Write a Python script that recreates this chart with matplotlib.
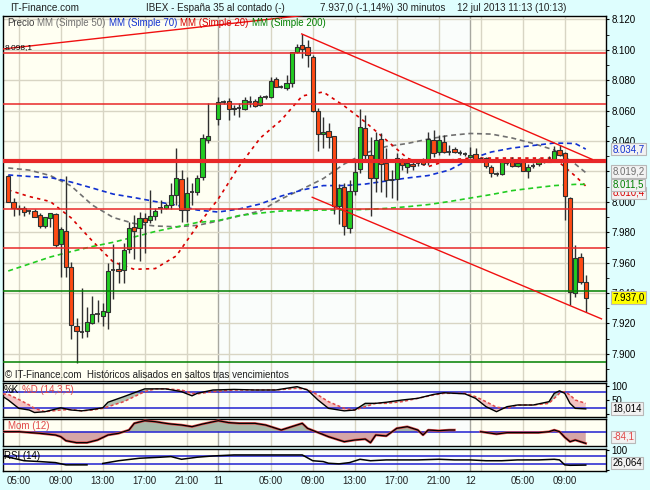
import numpy as np
import matplotlib.pyplot as plt
import matplotlib.transforms as mtransforms

plt.rcParams['font.family'] = ['Liberation Sans', 'DejaVu Sans']

nan = float('nan')

# IBEX 35 contado, velas de 30 minutos (10 jul 04:00 -> 12 jul 11:00)
opens = [8017.0, 8000.2, 7995.7, 7995.7, 7993.8, 7994.3, 7991.3, 7984.1, 7989.4, 7992.0,
         7972.2, 7981.0, 7956.9, 7918.1, 7914.5, 7915.3, 7920.1, 7926.0, 7925.2, 7927.7,
         7955.1, 7955.5, 7955.1, 7968.8, 7983.2, 7982.6, 7989.2, 7987.8, 7990.7, 7995.7,
         7995.7, 7997.7, 8004.3, 8014.8, 7994.6, 8006.3, 8006.7, 8016.5, 8040.7, nan,
         8054.3, 8065.5, 8066.3, 8061.7, 8061.5, 8060.9, 8065.9, 8066.3, 8063.7, 8069.2,
         8068.8, 8080.6, 8075.8, 8074.7, 8078.0, 8098.8, 8103.2, 8101.7, 8095.1, 8059.8,
         8044.6, 8046.8, 8043.1, 7997.5, 8009.6, 7982.6, 8007.3, 8021.4, 8048.4, 8030.8,
         8015.7, 8041.3, 8025.3, 8014.7, 8014.8, 8026.9, 8022.9, 8024.9, 8025.7, 8026.4,
         8026.4, 8041.0, 8032.6, 8039.6, 8033.1, 8034.6, 8032.3, 8031.5, 8029.3, 8031.3,
         8028.5, 8028.6, 8022.7, 8018.3, 8018.3, 8025.7, 8026.9, 8023.9, 8026.0, 8020.5,
         8023.6, 8024.6, 8026.5, 8026.4, 8028.2, 8034.1, 8031.9, 8002.7, 7940.3, 7963.5,
         7947.5]
highs = [8017.7, 8002.3, 7997.6, 7997.3, 7994.6, 7995.0, 7992.4, 7990.3, 7992.9, 7992.4,
         7983.6, 8017.0, 7960.6, 7923.6, 7943.3, 7931.0, 7938.0, 7935.1, 7933.4, 7959.7,
         7972.3, 7960.4, 7972.6, 7986.9, 7991.3, 7993.5, 7992.4, 8007.8, 7995.7, 8001.2,
         7999.0, 8012.2, 8035.2, 8020.9, 8016.5, 8012.2, 8017.7, 8044.6, 8064.8, nan,
         8069.0, 8067.0, 8068.1, 8063.7, 8064.8, 8069.2, 8069.6, 8067.5, 8070.3, 8070.0,
         8081.9, 8081.9, 8076.9, 8083.5, 8098.8, 8103.8, 8110.4, 8106.5, 8096.6, 8061.5,
         8056.0, 8051.7, 8043.3, 8011.7, 8012.2, 8014.4, 8027.5, 8060.9, 8057.1, 8042.7,
         8046.1, 8045.6, 8035.7, 8020.9, 8031.9, 8028.6, 8026.4, 8027.5, 8027.5, 8028.6,
         8046.1, 8047.3, 8044.0, 8044.0, 8037.4, 8036.3, 8034.1, 8032.8, 8036.3, 8035.4,
         8029.5, 8029.5, 8024.2, 8019.6, 8028.2, 8027.5, 8029.5, 8026.2, 8027.5, 8024.9,
         8025.5, 8028.8, 8027.5, 8030.2, 8036.7, 8037.4, 8032.8, 8003.4, 7971.6, 7966.5,
         7951.9]
lows = [7999.6, 7990.7, 7991.3, 7990.7, 7992.0, 7990.0, 7982.6, 7982.6, 7983.2, 7970.5,
        7950.7, 7950.7, 7909.5, 7893.7, 7910.5, 7911.1, 7919.6, 7920.9, 7918.3, 7916.1,
        7936.1, 7946.6, 7946.4, 7966.1, 7962.2, 7961.3, 7966.1, 7985.9, 7988.0, 7992.6,
        7995.1, 7995.1, 7997.9, 7986.9, 7986.9, 7997.9, 8004.5, 8014.4, 8038.9, nan,
        8050.6, 8064.4, 8053.8, 8057.1, 8055.6, 8060.4, 8062.2, 8062.2, 8063.1, 8067.9,
        8068.1, 8075.4, 8074.7, 8073.6, 8075.8, 8097.7, 8094.4, 8088.9, 8059.3, 8033.4,
        8035.2, 8035.2, 7992.0, 7985.4, 7978.0, 7979.8, 8004.5, 8019.3, 8027.5, 7991.0,
        8006.8, 8006.5, 8003.2, 8002.5, 8001.2, 8020.9, 8018.8, 8020.9, 8023.6, 8024.2,
        8024.2, 8029.7, 8030.8, 8031.9, 8030.8, 8031.9, 8030.8, 8030.2, 8028.8, 8027.5,
        8027.5, 8022.3, 8016.3, 8017.0, 8017.7, 8024.2, 8022.9, 8022.9, 8020.0, 8015.7,
        8022.3, 8023.6, 8025.5, 8025.9, 8027.5, 8030.2, 7988.0, 7932.1, 7937.6, 7945.9,
        7927.7]
closes = [7999.7, 7995.7, 7995.3, 7993.5, 7993.6, 7990.3, 7984.1, 7990.0, 7992.7, 7971.4,
          7981.9, 7956.9, 7918.9, 7914.8, 7914.5, 7920.7, 7926.0, 7926.0, 7928.2, 7954.5,
          7955.1, 7954.8, 7968.0, 7982.6, 7981.0, 7989.6, 7987.0, 7990.9, 7994.0, 7995.7,
          7997.9, 8004.5, 8015.5, 7994.6, 8005.6, 8006.3, 8015.5, 8041.8, 8043.3, nan,
          8065.4, 8065.5, 8060.9, 8061.3, 8061.5, 8067.0, 8065.9, 8063.1, 8068.8, 8069.2,
          8079.7, 8075.8, 8075.8, 8078.4, 8098.4, 8101.7, 8100.4, 8096.6, 8059.8, 8044.4,
          8046.1, 8042.9, 7997.5, 8008.9, 7984.3, 8007.3, 8019.8, 8049.0, 8031.1, 8015.5,
          8040.4, 8024.6, 8014.4, 8014.7, 8028.6, 8024.2, 8025.3, 8023.6, 8025.7, 8024.9,
          8041.3, 8032.4, 8040.5, 8032.6, 8033.1, 8033.0, 8032.3, 8031.5, 8030.8, 8028.0,
          8028.5, 8023.4, 8018.8, 8018.3, 8026.7, 8025.7, 8023.9, 8025.3, 8020.6, 8023.1,
          8023.6, 8026.4, 8026.5, 8028.0, 8033.4, 8031.1, 8003.8, 7940.5, 7962.8, 7947.1,
          7937.0]

# medias moviles (cada 4 velas)
ma_idx = [0, 4, 8, 12, 16, 20, 24, 28, 32, 36, 40, 44, 48, 52, 56, 60, 64, 68, 72, 76,
          80, 84, 88, 92, 96, 100, 104, 108, 110]
ma20 = [8007.8, 8003.5, 8000.2, 7989.4, 7974.3, 7960.4, 7955.6, 7956.1, 7964.4, 7984.1,
        8001.9, 8023.6, 8042.0, 8053.8, 8069.7, 8072.3, 8063.1, 8052.5, 8040.7, 8028.8,
        8023.2, 8027.5, 8028.8, 8028.8, 8028.8, 8028.8, 8028.8, 8017.0, 8010.4]
ma50 = [8022.3, 8020.9, 8017.3, 8010.4, 7997.9, 7989.7, 7985.7, 7984.1, 7983.6, 7984.5,
        7987.4, 7990.7, 7994.0, 8001.9, 8008.4, 8015.3, 8024.9, 8032.1, 8036.4, 8038.4,
        8041.3, 8043.7, 8045.0, 8044.6, 8042.0, 8038.4, 8034.1, 8024.9, 8019.2]
ma70 = [8017.7, 8016.7, 8016.0, 8013.0, 8009.1, 8005.1, 8002.8, 8000.2, 7997.9, 7994.6,
        7993.3, 7995.3, 7998.6, 8003.8, 8007.8, 8010.7, 8010.7, 8011.7, 8013.7, 8015.7,
        8017.3, 8020.9, 8028.2, 8032.8, 8035.4, 8037.1, 8038.7, 8038.4, 8034.7]
ma200 = [7954.5, 7959.1, 7963.7, 7967.3, 7970.6, 7973.4, 7976.9, 7980.5, 7983.4, 7986.4,
         7987.7, 7991.0, 7992.6, 7994.0, 7994.3, 7994.6, 7994.6, 7995.0, 7995.7, 7996.8,
         7998.2, 8000.2, 8002.5, 8004.8, 8007.4, 8009.1, 8010.7, 8011.5, 8011.5]

# lineas dibujadas: soportes / resistencias y canal
red_levels = [8098.1, 8064.2, 7995.1, 7969.5]
red_thick_level = 8027.1
green_levels = [7941.1, 7894.5]
trend_lines = [((-1.0, 8100.6), (56.0, 8122.6)),
               ((55.9, 8110.5), (111.2, 8028.0)),
               ((57.9, 8003.0), (113.0, 7923.0))]

# estocastico (14,3,5)
stoch_idx = [-1, 0, 2, 4, 5, 7, 10, 12, 14, 16, 18, 19, 22, 24, 26, 28, 30, 33, 35, 36,
             39, 43, 47, 51, 55, 57, 59, 61, 64, 66, 68, 70, 72, 75, 78, 81, 83, 87, 89, 91,
             93, 95, 97, 100, 103, 104, 105, 106, 107, 108, 110]
stoch_k = [62, 50, 20, 14, 5, 8, 22, 14, 11, 16, 22, 42, 62, 76, 90, 90, 90, 80, 65, 74,
           86, 88, 86, 86, 98, 86, 50, 20, 11, 14, 38, 38, 42, 50, 56, 70, 76, 72, 56, 26,
           8, 26, 32, 32, 44, 74, 83, 74, 38, 20, 18.014]
stoch_d = [72, 70, 52, 32, 20, 8, 14, 16, 11, 14, 20, 26, 44, 62, 80, 90, 90, 86, 74, 72,
           80, 86, 86, 86, 92, 88, 68, 44, 20, 14, 26, 38, 38, 44, 56, 68, 74, 74, 62, 44,
           24, 20, 32, 32, 38, 56, 74, 80, 68, 50, 38]

# momento (12)
mom_idx = [-1, 2, 6, 9, 10, 11, 13, 15, 17, 19, 21, 23, 24, 26, 28, 30, 31, 33, 35, 37,
           40, 42, 44, 47, 49, 52, 54, 56, 57, 59, 61, 64, 66, 68, 69, 70, 72, 74, 76, 78,
           79, 80, 82, 84, 85, 87, 90, 93, 95, 97, 101, 103, 104, 105, 106, 107, 108, 110]
mom_val = [0, 0, -12, -24, -36, -65, -79, -79, -60, -24, -12, 12, 60, 79, 72, 60, 55, 48, 36, 55,
           79, 65, 60, 60, 48, 12, 36, 60, 24, -6, -36, -72, -60, -53, -79, -24, -31, 24, 36, 12,
           -24, 12, 7, 12, 12, nan, 0, -17, -7, -7, -7, 0, 12, 0, -40, -72, -60, -84.1]

# RSI (14)
rsi_idx = [-1, 1, 3, 6, 9, 11, 15, 16, 18, 21, 25, 29, 31, 33, 36, 39, 43, 47, 51, 56,
           58, 60, 61, 63, 65, 67, 69, 72, 75, 78, 82, 85, 88, 91, 94, 97, 101, 104, 105, 106,
           107, 110]
rsi_val = [70, 59, 47, 43, 38, 27, 27, nan, 34, 47, 59, 64, 67, 54, 64, 70, 75, 75, 75, 75,
           47, 43, 35, 32, 38, 54, 47, 51, 51, 51, 54, 51, 51, 47, 47, 51, 51, 54, 51, 27,
           25, 26.064]

# eje de tiempo (indice de vela)
tick_idx = [2, 10, 18, 26, 34, 40, 50, 58, 66, 74, 82, 88, 98, 106]
tick_labels = ['05:00', '09:00', '13:00', '17:00', '21:00', '11',
               '05:00', '09:00', '13:00', '17:00', '21:00', '12', '05:00', '09:00']
grid_idx = [2, 10, 18, 26, 34, 42, 50, 58, 66, 74, 82, 90, 98, 106]
day_idx = [40, 88]

BG = '#DEFEFE'
CREAM = '#FFFFF2'
DAY11 = '#FAFDFB'
GRID = '#D8D5C4'
DAYLINE = '#A8A8A0'
GREEN = '#22CC22'
RED = '#FF4A14'
EDGE = '#303030'
W, H = 650, 490
X_LEFT, X_RIGHT = -1.0, 113.8


def es_number(v, nd):
    s = f'{v:,.{nd}f}'
    return s.replace(',', 'X').replace('.', ',').replace('X', '.')


def add_panel(fig, top, bottom):
    return fig.add_axes([3 / W, 1 - bottom / H, 602.7 / W, (bottom - top) / H])


def style_panel(a, ylim):
    a.set_xlim(X_LEFT, X_RIGHT)
    a.set_ylim(*ylim)
    a.set_facecolor(CREAM)
    a.axvspan(40, 88, color=DAY11, zorder=0, lw=0)
    for g in grid_idx:
        a.axvline(g, color=GRID, lw=1, zorder=1)
    for d in day_idx:
        a.axvline(d, color=DAYLINE, lw=1, zorder=1)
    for s in a.spines.values():
        s.set_color('black')
        s.set_linewidth(1)
    a.yaxis.tick_right()
    a.tick_params(axis='y', labelsize=7, length=2, pad=2)
    a.set_xticks([])


def value_box(a, y, text, color, face='#F2F2F2', coords='data'):
    if coords == 'data':
        tr = mtransforms.blended_transform_factory(a.transAxes, a.transData)
    else:
        tr = a.transAxes
    a.text(1.011, y, text, transform=tr, fontsize=7, color=color, va='center', ha='left',
           clip_on=False, zorder=10,
           bbox=dict(boxstyle='square,pad=0.12', facecolor=face, edgecolor='#B8B8B8', lw=0.8))


def text_row(fig, x_px, y_px, pieces, size=7, gap=3):
    renderer = fig.canvas.get_renderer()
    x = x_px
    for s, c in pieces:
        t = fig.text(x / W, 1 - y_px / H, s, color=c, fontsize=size, va='center', ha='left')
        x += t.get_window_extent(renderer=renderer).width + gap


fig = plt.figure(figsize=(6.5, 4.9), dpi=100, facecolor=BG)

# ---- panel principal ----
ax = add_panel(fig, 15.7, 381)
style_panel(ax, (7882.1, 8122.5))
for p in range(7900, 8121, 20):
    ax.axhline(p, color=GRID, lw=1, zorder=1)
ax.set_yticks(range(7900, 8121, 20))
ax.set_yticks(range(7890, 8121, 10), minor=True)
# la etiqueta 8.020 queda tapada por la caja de la media de 50
ax.set_yticklabels(['' if p == 8020 else f'{p / 1000:.3f}' for p in range(7900, 8121, 20)])
ax.tick_params(axis='y', which='minor', length=2)

ls = (0, (3, 2.2))
ax.plot(ma_idx, ma50, color='#707070', lw=1.2, ls=ls, zorder=3)
ax.plot(ma_idx, ma70, color='#1030D0', lw=1.2, ls=ls, zorder=3)
ax.plot(ma_idx, ma20, color='#D80000', lw=1.2, ls=(0, (2, 2.5)), zorder=3)
ax.plot(ma_idx, ma200, color='#22CC22', lw=1.2, ls=ls, zorder=3)

for i, (o, h, l, c) in enumerate(zip(opens, highs, lows, closes)):
    if np.isnan(o):
        continue
    ax.vlines(i, l, h, color=EDGE, lw=1, zorder=4)
    if abs(c - o) < 0.3:
        ax.hlines(o, i - 0.4, i + 0.4, color=EDGE, lw=1.3, zorder=5)
    else:
        ax.bar(i, abs(c - o), bottom=min(o, c), width=0.8, color=GREEN if c > o else RED,
               edgecolor=EDGE, linewidth=0.8, zorder=5)

for lv in red_levels:
    ax.axhline(lv, color='#E82828', lw=1.1, zorder=6)
ax.axhline(red_thick_level, color='#E82828', lw=3, zorder=6)
for lv in green_levels:
    ax.axhline(lv, color='#008000', lw=1.1, zorder=6)
for (x0, y0), (x1, y1) in trend_lines:
    ax.plot([x0, x1], [y0, y1], color='#F01010', lw=1, zorder=6)

ax.text(-0.7, red_levels[0] + 1.2, es_number(red_levels[0], 1), fontsize=6, color='black',
        va='bottom', ha='left', zorder=7)
ax.text(0.004, 0.017, '© IT-Finance.com  Históricos alisados en saltos tras vencimientos',
        transform=ax.transAxes, fontsize=7, color='#202020', va='center', ha='left')

# cajas con el ultimo valor de cada serie
value_box(ax, 8034.7, '8.034,7', '#1030D0')
value_box(ax, 8006.0, '8.010,4', '#D80000')
value_box(ax, 8020.0, '8.019,2', '#707070')
value_box(ax, 8011.1, '8.011,5', '#008000')
value_box(ax, closes[-1], es_number(closes[-1], 1), 'black', face='#FFFF00')

# ---- estocastico ----
ax_st = add_panel(fig, 383.3, 416.7)
style_panel(ax_st, (-10, 110))
k = np.array(stoch_k, dtype=float)
d = np.array(stoch_d, dtype=float)
ax_st.fill_between(stoch_idx, k, d, where=k >= d, interpolate=True, color='#B0C2B0', lw=0, zorder=2)
ax_st.fill_between(stoch_idx, k, d, where=k < d, interpolate=True, color='#F2C2C2', lw=0, zorder=2)
ax_st.axhline(80, color='#2020D0', lw=1.1, zorder=3)
ax_st.axhline(20, color='#2020D0', lw=1.1, zorder=3)
ax_st.plot(stoch_idx, d, color='#E04848', lw=1.1, ls=(0, (2, 1.5)), zorder=4)
ax_st.plot(stoch_idx, k, color='black', lw=1, zorder=5)
ax_st.set_yticks([0, 50, 100])
ax_st.set_yticklabels(['', '50', '100'])
value_box(ax_st, 0.25, es_number(stoch_k[-1], 3), 'black', coords='axes')

# ---- momento ----
ax_m = add_panel(fig, 419.3, 446)
style_panel(ax_m, (-103, 89))
mv = np.array(mom_val, dtype=float)
ax_m.fill_between(mom_idx, mv, 0, where=mv >= 0, interpolate=True, color='#A8B8A8', lw=0, zorder=2)
ax_m.fill_between(mom_idx, mv, 0, where=mv < 0, interpolate=True, color='#D6A6A6', lw=0, zorder=2)
ax_m.axhline(0, color='#2020D0', lw=1.1, zorder=3)
ax_m.plot(mom_idx, mv, color='#E04848', lw=1.8, zorder=4)
ax_m.plot(mom_idx, mv, color='black', lw=0.9, zorder=5)
ax_m.set_yticks([])
ax_m.text(0.008, 0.75, 'Mom (12)', transform=ax_m.transAxes, fontsize=7, color='#E04848',
          va='center')
value_box(ax_m, 0.34, es_number(mom_val[-1], 1), '#E04848', coords='axes')

# ---- RSI ----
ax_r = add_panel(fig, 448.7, 470.7)
style_panel(ax_r, (-1, 105))
ax_r.axhline(70, color='#2020D0', lw=1.1, zorder=3)
ax_r.axhline(30, color='#2020D0', lw=1.1, zorder=3)
ax_r.plot(rsi_idx, rsi_val, color='black', lw=1.1, zorder=4)
ax_r.set_yticks([0, 100])
ax_r.set_yticklabels(['', '100'])
ax_r.text(0.002, 0.68, 'RSI (14)', transform=ax_r.transAxes, fontsize=7, color='black',
          va='center')
value_box(ax_r, 0.36, es_number(rsi_val[-1], 3), 'black', coords='axes')
ax_r.set_xticks(tick_idx)
ax_r.set_xticklabels(tick_labels)
ax_r.tick_params(axis='x', labelsize=7, length=0, pad=3.5, colors='#202020')

# ---- cabecera y leyendas ----
fig.text(10 / W, 1 - 8 / H, 'IT-Finance.com', fontsize=7.2, color='#202020', va='center')
header = [(145.7, 'IBEX - España 35 al contado (-)'), (320, '7.937,0 (-1,14%)'),
          (397, '30 minutos'), (457, '12 jul 2013 11:13 (10:13)')]
for x_px, s in header:
    fig.text(x_px / W, 1 - 8 / H, s, fontsize=7.1, color='#202020', va='center')
text_row(fig, 7, 23, [('Precio', '#404040'), ('MM (Simple 50)', '#707070'),
                      ('MM (Simple 70)', '#1030D0'), ('MM (Simple 20)', '#D80000'),
                      ('MM (Simple 200)', '#008000')])
text_row(fig, 4, 390, [('%K', 'black'), ('%D (14,3,5)', '#E04848')])

fig.savefig('out.png', dpi=100, facecolor=BG)
